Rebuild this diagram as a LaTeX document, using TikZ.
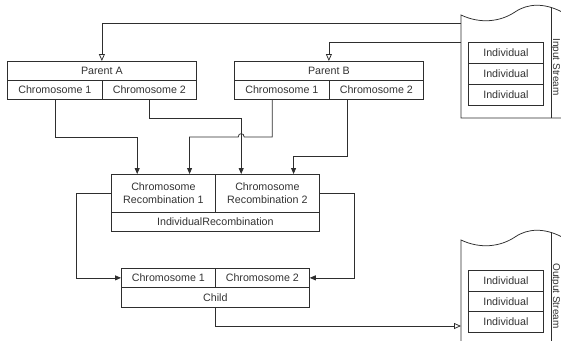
\documentclass[tikz,border=0pt]{standalone}
\usepackage{fontspec}
\setmainfont{Liberation Sans}
\usetikzlibrary{arrows.meta,calc}
\definecolor{linec}{HTML}{2E2E2E}
\definecolor{textc}{HTML}{333333}
\begin{document}
\begin{tikzpicture}[x=1pt,y=-1pt,
  cell/.style={draw=linec,line width=0.75pt,inner sep=0pt,anchor=north west,
    text=textc,font=\fontsize{10.7}{13}\selectfont,align=center},
  conn/.style={draw=linec,line width=0.75pt},
  arr/.style={conn,-{Triangle[length=6pt,width=5pt]}},
  oarr/.style={conn,-{Triangle[open,length=7pt,width=6pt,fill=white]}},
  streamlbl/.style={text=textc,font=\fontsize{10}{12}\selectfont,rotate=-90,inner sep=0pt}]
\path[use as bounding box] (0,0) rectangle (561,340);

% streams
\draw[conn,fill=white] (561,118) -- (461,118) -- (461,15)
  .. controls (480,24) and (500,22) .. (515,12)
  .. controls (528,3) and (545,3) .. (562,12);
\draw[conn] (551,7) -- (551,118);
\node[streamlbl] (inlbl) at (555.5,67) {Input Stream};
\draw[conn,fill=white] (461,341) -- (461,240)
  .. controls (480,249) and (500,247) .. (515,237)
  .. controls (528,228) and (545,228) .. (562,237);
\draw[conn] (551,232) -- (551,341);
\node[streamlbl] (outlbl) at (555.5,296) {Output Stream};

\node[cell,minimum width=75pt,minimum height=21pt] (in1) at (468,42) {Individual};
\node[cell,minimum width=75pt,minimum height=21pt] (in2) at (468,63) {Individual};
\node[cell,minimum width=75pt,minimum height=21pt] (in3) at (468,84) {Individual};
\node[cell,minimum width=75pt,minimum height=21pt] (out1) at (468,270) {Individual};
\node[cell,minimum width=75pt,minimum height=20pt] (out2) at (468,291) {Individual};
\node[cell,minimum width=75pt,minimum height=21pt] (out3) at (468,311) {Individual};

\coordinate (inA) at (461,23);
\coordinate (inB) at (461,42);
\coordinate (outA) at (461,326);

% parents
\node[cell,minimum width=189pt,minimum height=19pt] (paT) at (7,61) {Parent A};
\node[cell,minimum width=95pt,minimum height=19pt] (pa1) at (7,80) {Chromosome 1};
\node[cell,minimum width=94pt,minimum height=19pt] (pa2) at (102,80) {Chromosome 2};
\node[cell,minimum width=189pt,minimum height=19pt] (pbT) at (234,61) {Parent B};
\node[cell,minimum width=95pt,minimum height=19pt] (pb1) at (234,80) {Chromosome 1};
\node[cell,minimum width=94pt,minimum height=19pt] (pb2) at (329,80) {Chromosome 2};

% recombination
\node[cell,minimum width=104pt,minimum height=38pt] (r1) at (111,174) {Chromosome\\Recombination 1};
\node[cell,minimum width=104pt,minimum height=38pt] (r2) at (215,174) {Chromosome\\Recombination 2};
\node[cell,minimum width=208pt,minimum height=19pt] (rT) at (111,212) {IndividualRecombination};

% child
\node[cell,minimum width=94pt,minimum height=19pt] (c1) at (121,268) {Chromosome 1};
\node[cell,minimum width=94pt,minimum height=19pt] (c2) at (215,268) {Chromosome 2};
\node[cell,minimum width=188pt,minimum height=20pt] (cT) at (121,287) {Child};

% input arrows
\draw[oarr] (inA) -| (paT.north);
\draw[oarr] (inB) -| (pbT.north);

% target points on recombination
\coordinate (t1) at ($(r1.north west)!0.25!(r1.north east)$);
\coordinate (t2) at ($(r1.north west)!0.75!(r1.north east)$);
\coordinate (t3) at ($(r2.north west)!0.25!(r2.north east)$);
\coordinate (t4) at ($(r2.north west)!0.75!(r2.north east)$);
\coordinate (s3) at ($(pb1.south west)!0.4!(pb1.south east)$);
\coordinate (s4) at ($(pb2.south west)!0.19!(pb2.south east)$);

\draw[arr] (pa1.south) |- ($(t1)+(0,-37)$) -- (t1);
\draw[arr] (pa2.south) |- ($(t3)+(0,-56)$) -- (t3);
\coordinate (hopR) at ($(t3)+(3,-37)$);
\coordinate (hopL) at ($(t3)+(-3,-37)$);
\draw[arr] (s3) |- (hopR) .. controls ($(hopR)+(0,-4.5)$) and ($(hopL)+(0,-4.5)$) .. (hopL) -| (t2);
\draw[arr] (s4) |- ($(t4)+(0,-18)$) -- (t4);

% recombination to child
\draw[arr] (r1.west) -- ++(-35,0) |- (c1.west);
\draw[arr] (r2.east) -- ++(35,0) |- (c2.east);

% child to output
\draw[oarr] (cT.south) |- (outA);
\end{tikzpicture}
\end{document}
